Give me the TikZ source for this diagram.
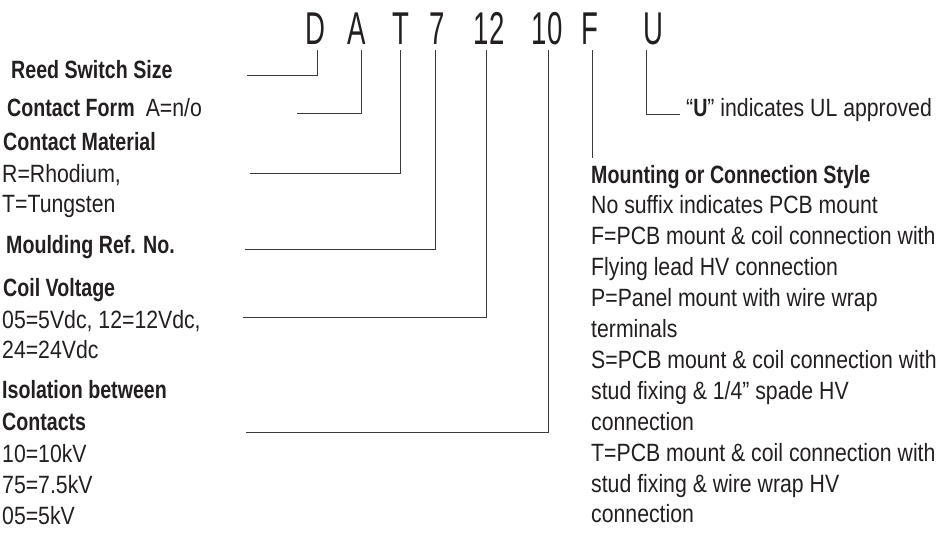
\documentclass[tikz,border=0pt]{standalone}
\usepackage{fontspec}
\setmainfont[FakeStretch=0.85]{Liberation Sans}
\newfontfamily\regf[FakeStretch=0.85]{Liberation Sans}
\newfontfamily\boldf[FakeStretch=0.785]{Liberation Sans}
\newfontfamily\codef[FakeStretch=0.6]{Liberation Sans}
\definecolor{ink}{HTML}{231F20}
\definecolor{rule}{HTML}{3A3A3A}
\tikzset{
  code/.style={inner sep=0pt, anchor=base, font=\codef\fontsize{46}{46}\selectfont, text=ink},
  lbl/.style={inner sep=0pt, anchor=base west, font=\boldf\bfseries\fontsize{25}{30}\selectfont, text=ink},
  txt/.style={inner sep=0pt, anchor=base west, font=\regf\fontsize{25}{30}\selectfont, text=ink},
  conn/.style={draw=rule, line width=1pt}
}
\begin{document}
\begin{tikzpicture}[x=1pt,y=-1pt]
\useasboundingbox (0,0) rectangle (949,541);
% code letters
\node[code] (cD) at (315,44) {D};
\node[code] (cA) at (357,44) {A};
\node[code] (cT) at (401,44) {T};
\node[code] (c7) at (437,44) {7};
\node[code] (c12) at (489,44) {12};
\node[code] (c10) at (547,44) {10};
\node[code] (cF) at (590,44) {F};
\node[code] (cU) at (653,44) {U};
% line start points below letters
\coordinate (tD) at (317,50);
\coordinate (tA) at (361,50);
\coordinate (tT) at (400,50);
\coordinate (t7) at (435,50);
\coordinate (t12) at (486,50);
\coordinate (t10) at (548,50);
\coordinate (tF) at (592,50);
\coordinate (tU) at (646,50);
% left free ends
\coordinate (eD) at (247,75);
\coordinate (eA) at (297,113);
\coordinate (eT) at (250,173);
\coordinate (e7) at (245,249);
\coordinate (e12) at (243,317);
\coordinate (e10) at (246,432);
\coordinate (eF) at (592,158);
\coordinate (eU) at (680,114);
% connectors
\draw[conn] (tD) |- (eD);
\draw[conn] (tA) |- (eA);
\draw[conn] (tT) |- (eT);
\draw[conn] (t7) |- (e7);
\draw[conn] (t12) |- (e12);
\draw[conn] (t10) |- (e10);
\draw[conn] (tF) -- (eF);
\draw[conn] (tU) |- (eU);
% left column
\node[lbl] (reed) at (11,78) {Reed Switch Size};
\node[lbl] (form) at (7,116) {Contact Form\hspace{11pt}{\regf\mdseries A=n/o}};
\node[lbl] (mat) at (3,150) {Contact Material};
\node[txt] (mat1) at (2,182) {R=Rhodium,};
\node[txt] (mat2) at (2,212) {T=Tungsten};
\node[lbl] (mould) at (6,253) {Moulding Ref. No.};
\node[lbl] (coil) at (3,296) {Coil Voltage};
\node[txt] (coil1) at (2,328) {05=5Vdc, 12=12Vdc,};
\node[txt] (coil2) at (2,358) {24=24Vdc};
\node[lbl] (iso) at (2,398) {Isolation between};
\node[lbl] (iso2) at (2,430) {Contacts};
\node[txt] (iso3) at (2,462) {10=10kV};
\node[txt] (iso4) at (2,493) {75=7.5kV};
\node[txt] (iso5) at (2,524) {05=5kV};
% U text
\node[txt] (ul) at (686,116) {“{\boldf\bfseries U}” indicates UL approved};
% right column
\node[lbl] (mt) at (591,183) {Mounting or Connection Style};
\node[txt] (m1) at (591,213.9) {No suffix indicates PCB mount};
\node[txt] (m2) at (591,244.8) {F=PCB mount \& coil connection with};
\node[txt] (m3) at (591,275.7) {Flying lead HV connection};
\node[txt] (m4) at (591,306.6) {P=Panel mount with wire wrap};
\node[txt] (m5) at (591,337.5) {terminals};
\node[txt] (m6) at (591,368.4) {S=PCB mount \& coil connection with};
\node[txt] (m7) at (591,399.3) {stud fixing \& 1/4” spade HV};
\node[txt] (m8) at (591,430.2) {connection};
\node[txt] (m9) at (591,461.1) {T=PCB mount \& coil connection with};
\node[txt] (m10) at (591,492) {stud fixing \& wire wrap HV};
\node[txt] (m11) at (591,522.9) {connection};
\end{tikzpicture}
\end{document}
